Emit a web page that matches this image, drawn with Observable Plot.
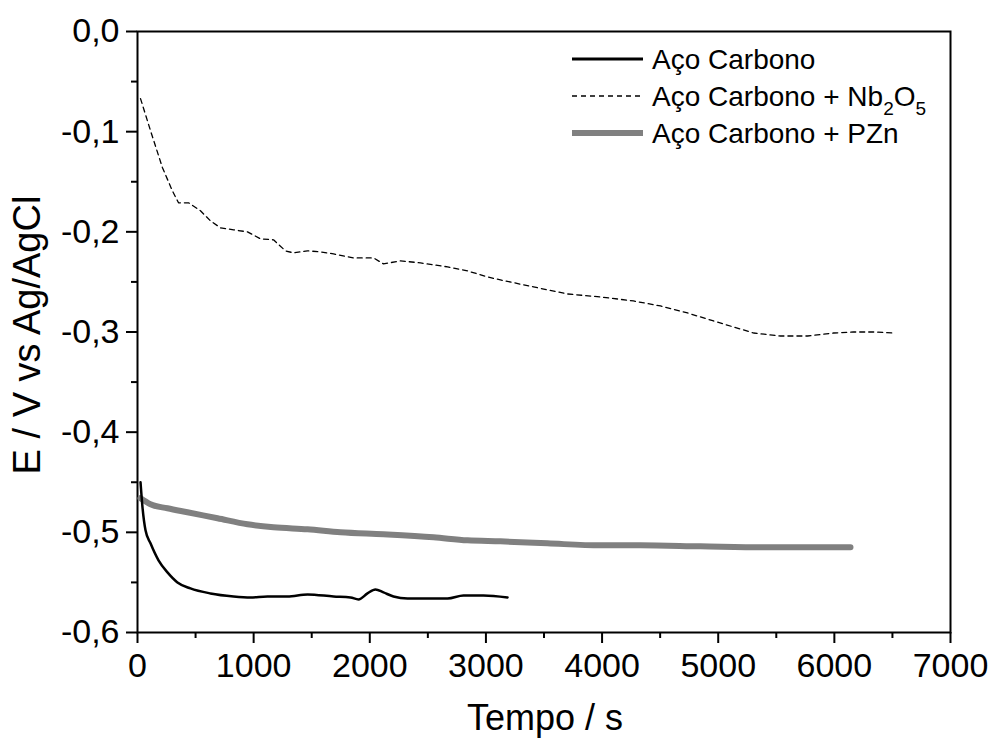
<!DOCTYPE html>
<html><head><meta charset="utf-8">
<script src="https://cdn.jsdelivr.net/npm/d3@7"></script>
<script src="https://cdn.jsdelivr.net/npm/@observablehq/plot@0.6"></script>
<style>body{margin:0;background:#fff}</style>
</head><body><div id="chart"></div>
<script>
// Aço Carbono (black solid)
const acoT = [26,43,69,112,181,258,344,456,628,827,973,1119,1291,1464,1688,1834,1903,1980,2049,2118,2204,2325,2497,2670,2807,2979,3186];
const acoE = [-0.450,-0.475,-0.498,-0.511,-0.528,-0.540,-0.550,-0.556,-0.561,-0.564,-0.565,-0.564,-0.564,-0.562,-0.564,-0.565,-0.567,-0.561,-0.557,-0.560,-0.564,-0.566,-0.566,-0.566,-0.563,-0.563,-0.565];
// Aço Carbono + Nb2O5 (dashed)
const nbT = [26,112,215,300,353,440,542,628,714,827,947,1059,1171,1274,1343,1464,1576,1688,1860,1946,2032,2118,2265,2437,2670,2841,3014,3125,3410,3700,3986,4270,4503,4736,4960,5132,5304,5536,5769,5993,6165,6337,6509];
const nbE = [-0.067,-0.099,-0.136,-0.159,-0.171,-0.171,-0.179,-0.189,-0.196,-0.198,-0.200,-0.207,-0.208,-0.219,-0.221,-0.219,-0.220,-0.222,-0.226,-0.226,-0.226,-0.232,-0.229,-0.231,-0.235,-0.239,-0.245,-0.248,-0.255,-0.262,-0.265,-0.269,-0.274,-0.281,-0.289,-0.295,-0.301,-0.304,-0.304,-0.301,-0.300,-0.300,-0.301];
// Aço Carbono + PZn (gray thick)
const pznT = [26,112,258,430,689,947,1171,1464,1748,2118,2549,2841,3125,3530,3986,4331,4848,5425,5993,6139];
const pznE = [-0.466,-0.472,-0.476,-0.480,-0.486,-0.492,-0.495,-0.497,-0.500,-0.502,-0.505,-0.508,-0.509,-0.511,-0.513,-0.513,-0.514,-0.515,-0.515,-0.515];

const xTicks = [0,1000,2000,3000,4000,5000,6000,7000];
const xMinor = [500,1500,2500,3500,4500,5500,6500];
const yTicks = [0,-0.1,-0.2,-0.3,-0.4,-0.5,-0.6];
const yMinor = [-0.05,-0.15,-0.25,-0.35,-0.45,-0.55];
const xLabel = "Tempo / s";
const yLabel = "E / V vs Ag/AgCl";
const legendLabels = ["Aço Carbono", "Aço Carbono + Nb", "Aço Carbono + PZn"];

const toRows = (T, E) => T.map((t, i) => ({t, e: E[i]}));
const aco = toRows(acoT, acoE), nb = toRows(nbT, nbE), pzn = toRows(pznT, pznE);
const FONT = "'Liberation Sans', Arial, sans-serif";

const plot = Plot.plot({
  width: 992, height: 742,
  marginLeft: 137, marginRight: 42, marginTop: 31, marginBottom: 110,
  style: {fontFamily: FONT, background: "#fff", color: "#000"},
  x: {domain: [0, 7000]},
  y: {domain: [-0.6, 0]},
  marks: [
    Plot.axisX({ticks: xTicks, tickSize: 11, tickPadding: 9, fontSize: 34, strokeWidth: 2, tickFormat: d => String(d), label: null}),
    Plot.axisX({ticks: xMinor, tickSize: 6, strokeWidth: 2, tickFormat: () => "", label: null}),
    Plot.axisY({ticks: yTicks, tickSize: 11, tickPadding: 7, fontSize: 34, strokeWidth: 2, tickFormat: d => d.toFixed(1).replace(".", ",").replace("-0,0","0,0"), label: null}),
    Plot.axisY({ticks: yMinor, tickSize: 6, strokeWidth: 2, tickFormat: () => "", label: null}),
    Plot.frame({stroke: "#000", strokeWidth: 2}),
    Plot.line(pzn, {x: "t", y: "e", stroke: "#808080", strokeWidth: 6, curve: "monotone-x"}),
    Plot.line(nb, {x: "t", y: "e", stroke: "#000", strokeWidth: 1.3, strokeDasharray: "5,4"}),
    Plot.line(aco, {x: "t", y: "e", stroke: "#000", strokeWidth: 2.5, curve: "monotone-x"})
  ]
});
document.getElementById("chart").appendChild(plot);

const svg = d3.select(plot);
// Axis titles
svg.append("text").attr("font-family", FONT).attr("font-size", 36).attr("fill", "#000")
  .attr("text-anchor", "middle").attr("x", 545).attr("y", 730).text(xLabel);
svg.append("text").attr("font-family", FONT).attr("font-size", 38).attr("fill", "#000")
  .attr("text-anchor", "middle").attr("transform", "translate(40,335) rotate(-90)").text(yLabel);

// Legend
const lg = svg.append("g").attr("font-family", FONT).attr("font-size", 28).attr("fill", "#000").attr("text-anchor", "start");
const styles = [
  {stroke: "#000", w: 3, dash: null},
  {stroke: "#000", w: 1.3, dash: "5,4"},
  {stroke: "#808080", w: 6, dash: null}
];
const rowsY = [59, 96, 133];
legendLabels.forEach((lab, i) => {
  const y = rowsY[i];
  lg.append("line").attr("x1", 572).attr("x2", 643).attr("y1", y).attr("y2", y)
    .attr("stroke", styles[i].stroke).attr("stroke-width", styles[i].w)
    .attr("stroke-dasharray", styles[i].dash);
  const t = lg.append("text").attr("x", 652).attr("y", y + 10).text(lab);
  if (i === 1) {
    t.append("tspan").attr("font-size", 19).attr("dy", 9).text("2");
    t.append("tspan").attr("dy", -9).text("O");
    t.append("tspan").attr("font-size", 19).attr("dy", 9).text("5");
  }
});
</script>
</body></html>
